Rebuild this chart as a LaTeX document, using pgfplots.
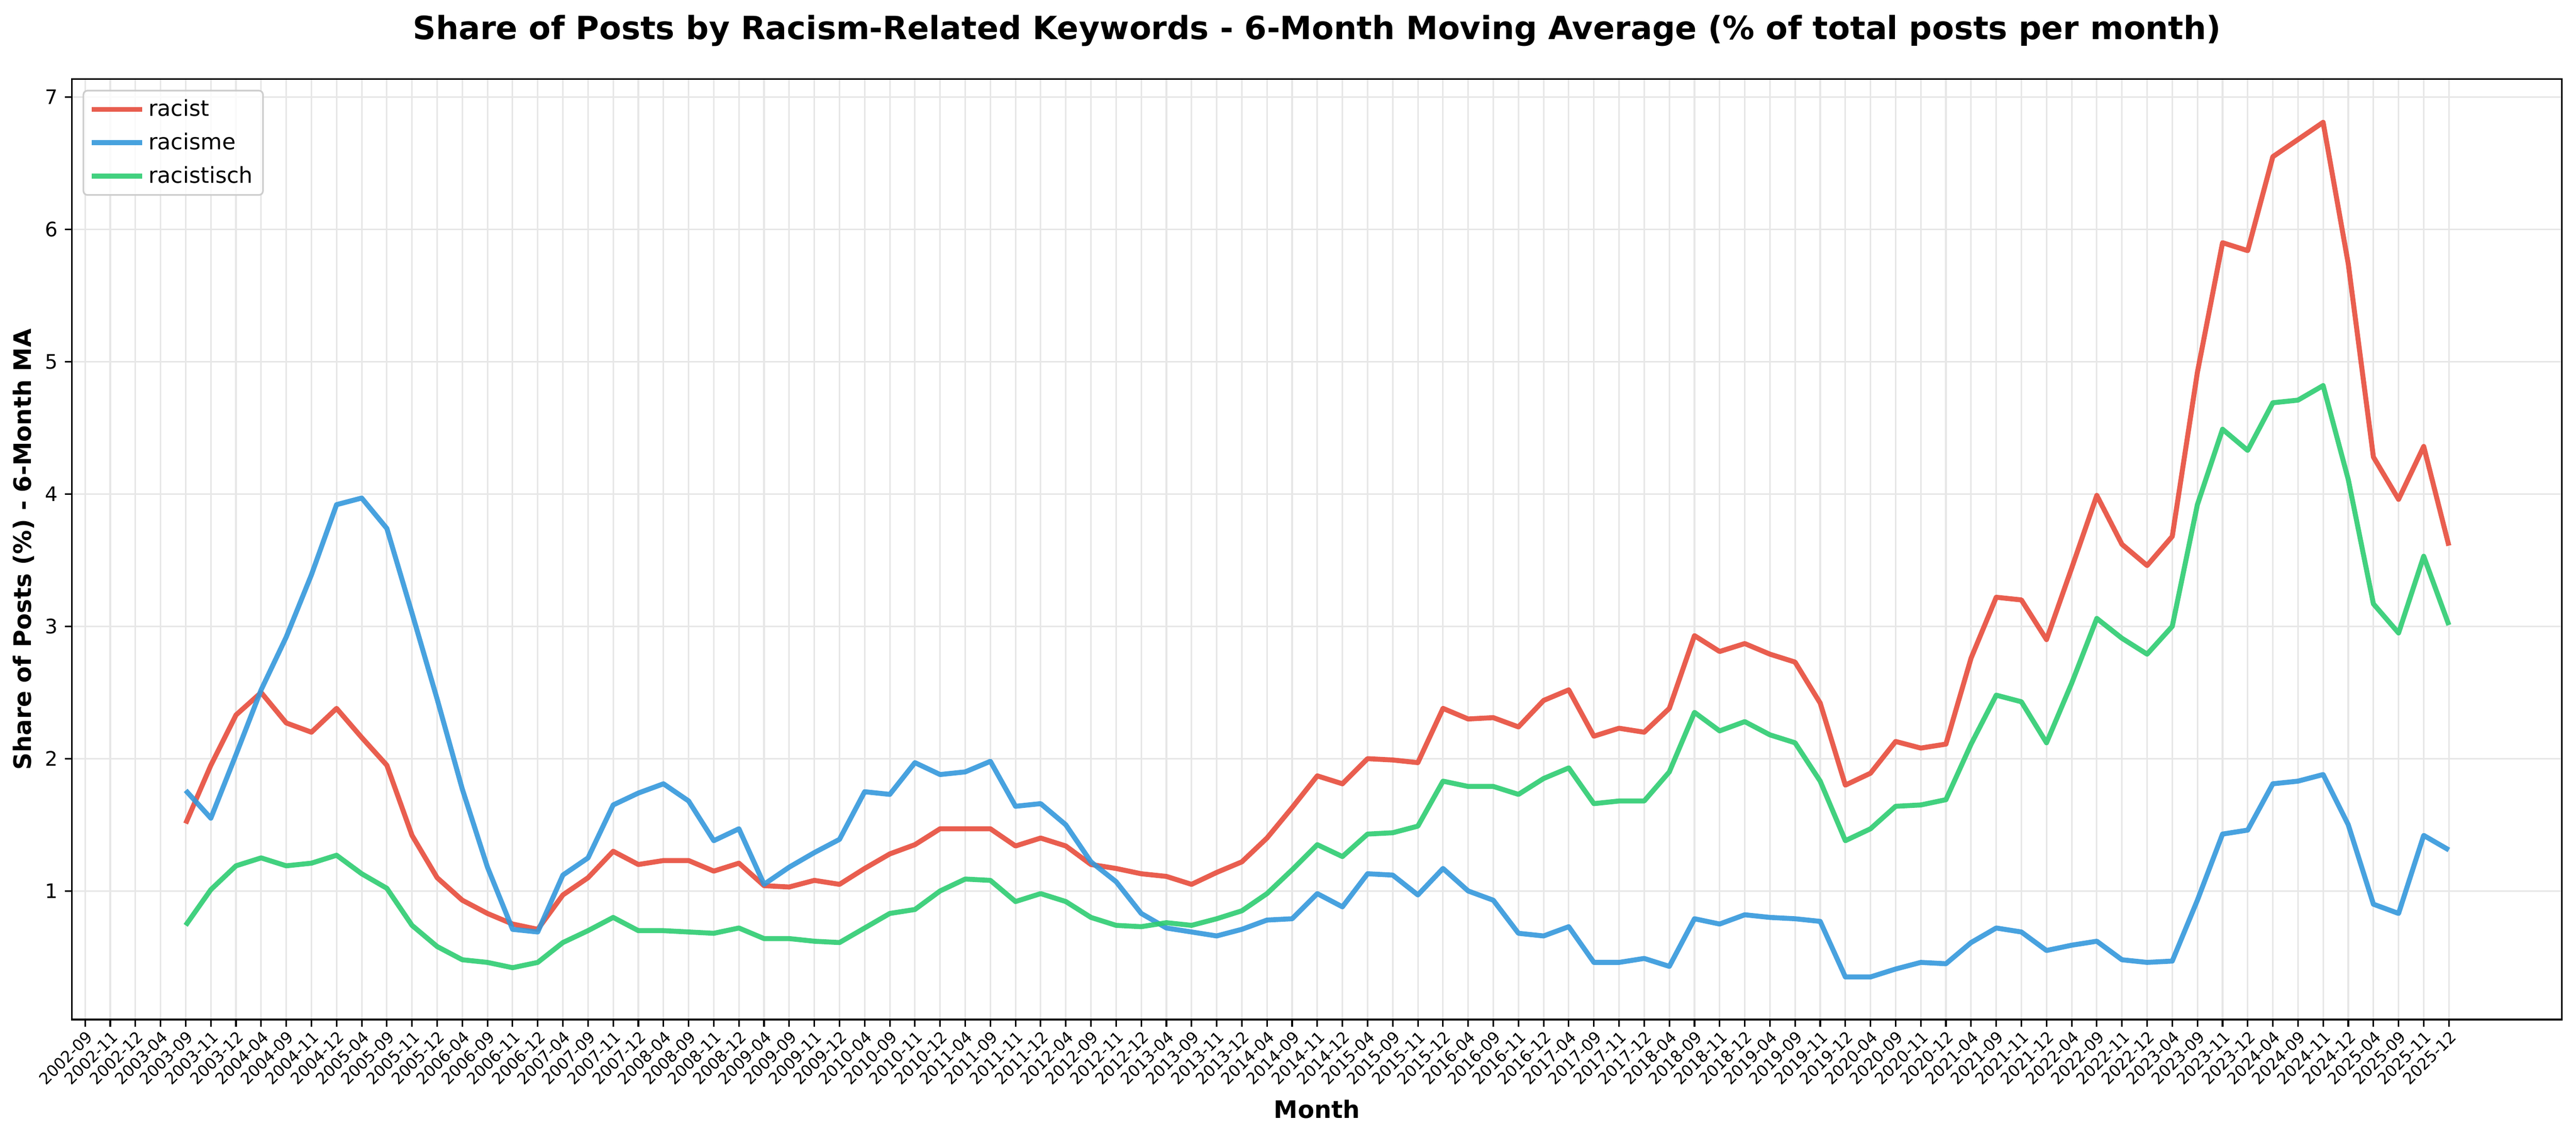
\documentclass[border=0pt]{standalone}
\usepackage{pgfplots}
\pgfplotsset{compat=1.18}
\usepackage{fontspec}
\setmainfont{DejaVu Sans}
\definecolor{cred}{RGB}{231,76,60}
\definecolor{cblue}{RGB}{52,152,219}
\definecolor{cgreen}{RGB}{46,204,113}
\definecolor{cgrid}{RGB}{231,231,231}
\definecolor{cleg}{RGB}{204,204,204}
\begin{document}
\begin{tikzpicture}
\begin{axis}[
  at={(0,0)}, anchor=south west,
  scale only axis,
  width=1244.4pt, height=470.2pt,
  xmin=-0.52, xmax=98.5,
  ymin=0.028, ymax=7.136,
  xtick={0,...,94},
  xticklabels={2002-09,2002-11,2002-12,
    2003-04,2003-09,2003-11,2003-12,
    2004-04,2004-09,2004-11,2004-12,
    2005-04,2005-09,2005-11,2005-12,
    2006-04,2006-09,2006-11,2006-12,
    2007-04,2007-09,2007-11,2007-12,
    2008-04,2008-09,2008-11,2008-12,
    2009-04,2009-09,2009-11,2009-12,
    2010-04,2010-09,2010-11,2010-12,
    2011-04,2011-09,2011-11,2011-12,
    2012-04,2012-09,2012-11,2012-12,
    2013-04,2013-09,2013-11,2013-12,
    2014-04,2014-09,2014-11,2014-12,
    2015-04,2015-09,2015-11,2015-12,
    2016-04,2016-09,2016-11,2016-12,
    2017-04,2017-09,2017-11,2017-12,
    2018-04,2018-09,2018-11,2018-12,
    2019-04,2019-09,2019-11,2019-12,
    2020-04,2020-09,2020-11,2020-12,
    2021-04,2021-09,2021-11,2021-12,
    2022-04,2022-09,2022-11,2022-12,
    2023-04,2023-09,2023-11,2023-12,
    2024-04,2024-09,2024-11,2024-12,
    2025-04,2025-09,2025-11,2025-12},
  ytick={1,2,3,4,5,6,7},
  /pgf/number format/assume math mode=true,
  xtick pos=bottom, ytick pos=left,
  tick align=outside,
  major tick length=3.5pt,
  every tick/.style={black, line width=0.8pt},
  axis line style={black, line width=0.8pt},
  grid=major,
  major grid style={cgrid, line width=0.8pt},
  xticklabel style={rotate=45, anchor=north east, inner sep=1pt, font=\fontsize{8}{9.6}\selectfont},
  yticklabel style={font=\fontsize{10}{12}\selectfont},
  title={Share of Posts by Racism-Related Keywords - 6-Month Moving Average (\% of total posts per month)},
  title style={at={(axis description cs:0.5,1.0425)}, anchor=base, yshift=-6pt, font=\bfseries\fontsize{16}{19}\selectfont},
  xlabel={Month},
  xlabel style={at={(axis description cs:0.5,-0.1051)}, anchor=base, font=\bfseries\fontsize{12}{14}\selectfont},
  ylabel={Share of Posts (\%) - 6-Month MA},
  ylabel style={at={(axis description cs:-0.0164,0.5)}, anchor=base, font=\bfseries\fontsize{12}{14}\selectfont},
  legend style={at={(axis description cs:0.00426,0.9887)}, anchor=north west,
    draw=cleg, line width=0.8pt, rounded corners=2pt, fill=white, fill opacity=0.8, text opacity=1,
    font=\fontsize{11}{13}\selectfont, inner xsep=3pt, inner ysep=2.5pt, row sep=2.8pt},
  legend cell align=left,
  legend image code/.code={\draw[#1] (0pt,0pt) -- (25pt,0pt);},
]
\addplot[cred, line width=2.5pt, line join=round, draw opacity=0.9] coordinates {
(4,1.51)(5,1.95)(6,2.33)(7,2.50)(8,2.27)(9,2.20)(10,2.38)(11,2.16)(12,1.95)(13,1.42)
(14,1.10)(15,0.93)(16,0.83)(17,0.75)(18,0.71)(19,0.97)(20,1.10)(21,1.30)(22,1.20)(23,1.23)
(24,1.23)(25,1.15)(26,1.21)(27,1.04)(28,1.03)(29,1.08)(30,1.05)(31,1.17)(32,1.28)(33,1.35)
(34,1.47)(35,1.47)(36,1.47)(37,1.34)(38,1.40)(39,1.34)(40,1.20)(41,1.17)(42,1.13)(43,1.11)
(44,1.05)(45,1.14)(46,1.22)(47,1.40)(48,1.63)(49,1.87)(50,1.81)(51,2.00)(52,1.99)(53,1.97)
(54,2.38)(55,2.30)(56,2.31)(57,2.24)(58,2.44)(59,2.52)(60,2.17)(61,2.23)(62,2.20)(63,2.38)
(64,2.93)(65,2.81)(66,2.87)(67,2.79)(68,2.73)(69,2.42)(70,1.80)(71,1.89)(72,2.13)(73,2.08)
(74,2.11)(75,2.76)(76,3.22)(77,3.20)(78,2.90)(79,3.44)(80,3.99)(81,3.62)(82,3.46)(83,3.68)
(84,4.92)(85,5.90)(86,5.84)(87,6.55)(88,6.68)(89,6.81)(90,5.74)(91,4.28)(92,3.96)(93,4.36)
(94,3.61)};
\addlegendentry{racist}
\addplot[cblue, line width=2.5pt, line join=round, draw opacity=0.9] coordinates {
(4,1.76)(5,1.55)(6,2.03)(7,2.52)(8,2.92)(9,3.39)(10,3.92)(11,3.97)(12,3.74)(13,3.10)
(14,2.45)(15,1.77)(16,1.18)(17,0.71)(18,0.69)(19,1.12)(20,1.25)(21,1.65)(22,1.74)(23,1.81)
(24,1.68)(25,1.38)(26,1.47)(27,1.05)(28,1.18)(29,1.29)(30,1.39)(31,1.75)(32,1.73)(33,1.97)
(34,1.88)(35,1.90)(36,1.98)(37,1.64)(38,1.66)(39,1.50)(40,1.22)(41,1.07)(42,0.83)(43,0.72)
(44,0.69)(45,0.66)(46,0.71)(47,0.78)(48,0.79)(49,0.98)(50,0.88)(51,1.13)(52,1.12)(53,0.97)
(54,1.17)(55,1.00)(56,0.93)(57,0.68)(58,0.66)(59,0.73)(60,0.46)(61,0.46)(62,0.49)(63,0.43)
(64,0.79)(65,0.75)(66,0.82)(67,0.80)(68,0.79)(69,0.77)(70,0.35)(71,0.35)(72,0.41)(73,0.46)
(74,0.45)(75,0.61)(76,0.72)(77,0.69)(78,0.55)(79,0.59)(80,0.62)(81,0.48)(82,0.46)(83,0.47)
(84,0.93)(85,1.43)(86,1.46)(87,1.81)(88,1.83)(89,1.88)(90,1.50)(91,0.90)(92,0.83)(93,1.42)
(94,1.31)};
\addlegendentry{racisme}
\addplot[cgreen, line width=2.5pt, line join=round, draw opacity=0.9] coordinates {
(4,0.74)(5,1.01)(6,1.19)(7,1.25)(8,1.19)(9,1.21)(10,1.27)(11,1.13)(12,1.02)(13,0.74)
(14,0.58)(15,0.48)(16,0.46)(17,0.42)(18,0.46)(19,0.61)(20,0.70)(21,0.80)(22,0.70)(23,0.70)
(24,0.69)(25,0.68)(26,0.72)(27,0.64)(28,0.64)(29,0.62)(30,0.61)(31,0.72)(32,0.83)(33,0.86)
(34,1.00)(35,1.09)(36,1.08)(37,0.92)(38,0.98)(39,0.92)(40,0.80)(41,0.74)(42,0.73)(43,0.76)
(44,0.74)(45,0.79)(46,0.85)(47,0.98)(48,1.16)(49,1.35)(50,1.26)(51,1.43)(52,1.44)(53,1.49)
(54,1.83)(55,1.79)(56,1.79)(57,1.73)(58,1.85)(59,1.93)(60,1.66)(61,1.68)(62,1.68)(63,1.90)
(64,2.35)(65,2.21)(66,2.28)(67,2.18)(68,2.12)(69,1.83)(70,1.38)(71,1.47)(72,1.64)(73,1.65)
(74,1.69)(75,2.11)(76,2.48)(77,2.43)(78,2.12)(79,2.57)(80,3.06)(81,2.91)(82,2.79)(83,3.00)
(84,3.92)(85,4.49)(86,4.33)(87,4.69)(88,4.71)(89,4.82)(90,4.11)(91,3.17)(92,2.95)(93,3.53)
(94,3.01)};
\addlegendentry{racistisch}
\end{axis}
\pgfresetboundingbox
\path[use as bounding box] ([xshift=-36pt,yshift=-59pt]current axis.south west) rectangle ([xshift=7pt,yshift=39.6pt]current axis.north east);
\end{tikzpicture}
\end{document}
